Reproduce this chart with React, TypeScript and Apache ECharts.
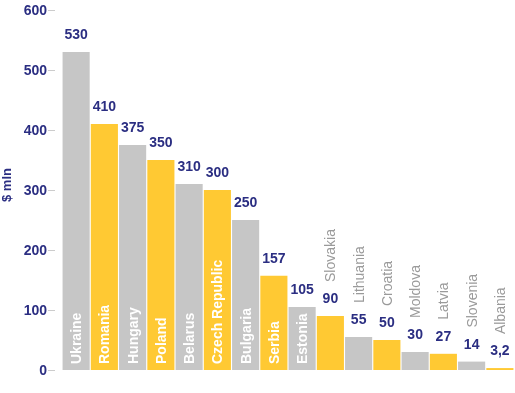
import React, { useEffect, useRef } from "react";
import * as echarts from "echarts";

const countries = ["Ukraine", "Romania", "Hungary", "Poland", "Belarus", "Czech Republic", "Bulgaria", "Serbia", "Estonia", "Slovakia", "Lithuania", "Croatia", "Moldova", "Latvia", "Slovenia", "Albania"];
const values = [530, 410, 375, 350, 310, 300, 250, 157, 105, 90, 55, 50, 30, 27, 14, 3.2];
const valueLabels = ["530", "410", "375", "350", "310", "300", "250", "157", "105", "90", "55", "50", "30", "27", "14", "3,2"];
const insideNameCount = 9;
const yTicks = [0, 100, 200, 300, 400, 500, 600];

const GRAY = "#C6C6C6";
const YELLOW = "#FFC933";
const NAVY = "#2B2E82";
const FONT = "Arial, 'Liberation Sans', sans-serif";

export default function App() {
  const ref = useRef<HTMLDivElement>(null);
  useEffect(() => {
    if (!ref.current) return;
    const chart = echarts.init(ref.current, undefined, { renderer: "svg" });
    chart.setOption({
      animation: false,
      grid: { left: 62, right: 1, top: 10, bottom: 23, outerBoundsMode: "none", containLabel: false },
      xAxis: {
        type: "category",
        data: countries,
        axisLine: { show: false },
        axisTick: { show: false },
        axisLabel: { show: false },
      },
      yAxis: {
        type: "value",
        min: yTicks[0],
        max: yTicks[yTicks.length - 1],
        interval: 100,
        offset: 7,
        name: "$ mln",
        nameLocation: "middle",
        nameGap: 40,
        nameTextStyle: { color: NAVY, fontWeight: "bold", fontSize: 13, fontFamily: FONT, padding: [0, 0, 0, 10] },
        axisLine: { show: false },
        axisTick: { show: true, length: 7, lineStyle: { color: "#CCCCCC" } },
        splitLine: { show: false },
        axisLabel: { color: NAVY, fontWeight: "bold", fontSize: 14, fontFamily: FONT, margin: 8 },
      },
      series: [
        {
          type: "bar",
          barCategoryGap: "4%",
          data: values.map((v, i) => ({
            value: v,
            itemStyle: { color: i % 2 === 0 ? GRAY : YELLOW },
          })),
          label: {
            show: true,
            position: "top",
            distance: 11,
            color: NAVY,
            fontWeight: "bold",
            fontSize: 14,
            fontFamily: FONT,
            formatter: (p: any) => valueLabels[p.dataIndex],
          },
        },
        {
          type: "bar",
          barGap: "-100%",
          barCategoryGap: "4%",
          silent: true,
          z: 5,
          data: values.map((v, i) => ({
            value: v,
            itemStyle: { color: "rgba(0,0,0,0)" },
            label:
              i < insideNameCount
                ? {
                    show: true,
                    position: "insideBottom",
                    distance: 6,
                    rotate: 90,
                    align: "left",
                    verticalAlign: "middle",
                    color: "#FFFFFF",
                    fontWeight: "bold",
                    fontSize: 14,
                    fontFamily: FONT,
                  }
                : {
                    show: true,
                    position: "top",
                    distance: 34,
                    rotate: 90,
                    align: "left",
                    verticalAlign: "middle",
                    color: "#9A9A9A",
                    fontWeight: "normal",
                    fontSize: 14,
                    fontFamily: FONT,
                  },
          })),
          label: { formatter: (p: any) => countries[p.dataIndex] },
        },
      ],
    });
    return () => chart.dispose();
  }, []);
  return <div ref={ref} style={{ position: "fixed", left: 0, top: 0, width: 515, height: 393 }} />;
}
